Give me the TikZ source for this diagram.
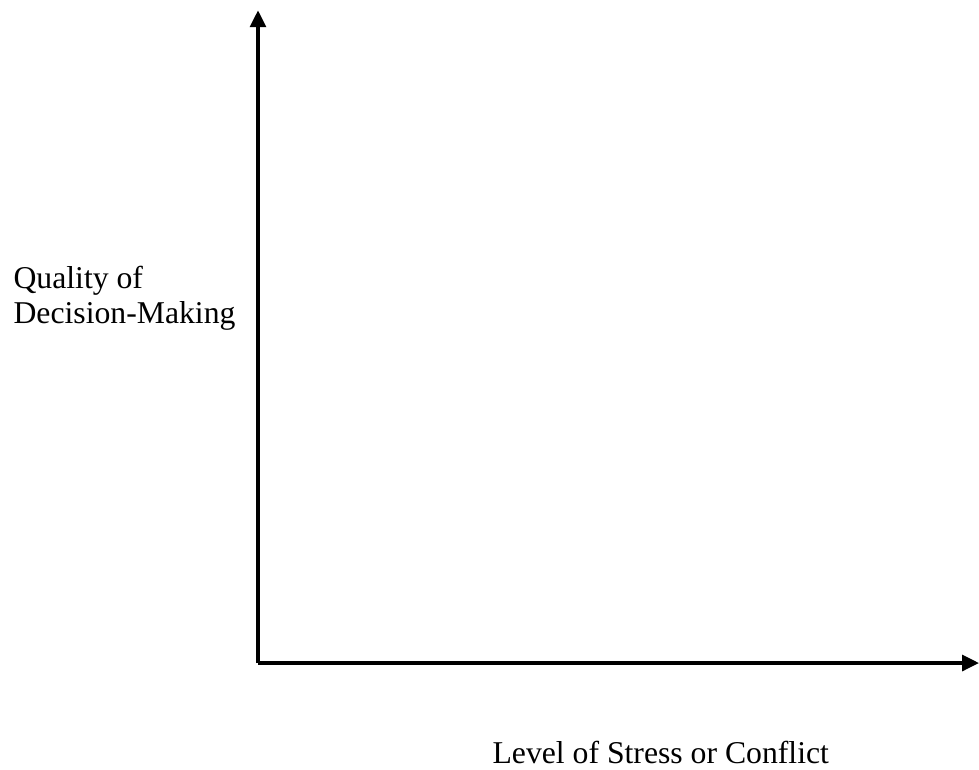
\documentclass[tikz,border=0pt]{standalone}
\usepackage{fontspec}
\setmainfont{Liberation Serif}
\usetikzlibrary{arrows.meta}
\tikzset{
  axis/.style={line width=1.3pt,-{Triangle[width=6pt,length=6.4pt]}},
  lbl/.style={anchor=base west,inner sep=0pt,font=\fontsize{12pt}{14pt}\selectfont}
}
\begin{document}
\begin{tikzpicture}
\useasboundingbox (-3.431,-1.410) rectangle (9.588,8.817);

%axes
\coordinate (origin) at (0,0);
\coordinate (ytip) at (0,8.68);
\coordinate (xtip) at (9.588,0);
\draw[axis] (origin) -- (ytip);
\draw[axis] (origin) -- (xtip);

%labels
\node[lbl] (qual) at (-3.258,4.987) {Quality of};
\node[lbl] (dmaking) at (-3.258,4.521) {Decision-Making};
\node[lbl] (stress) at (3.112,-1.33) {Level of Stress or Conflict};

\end{tikzpicture}
\end{document}
